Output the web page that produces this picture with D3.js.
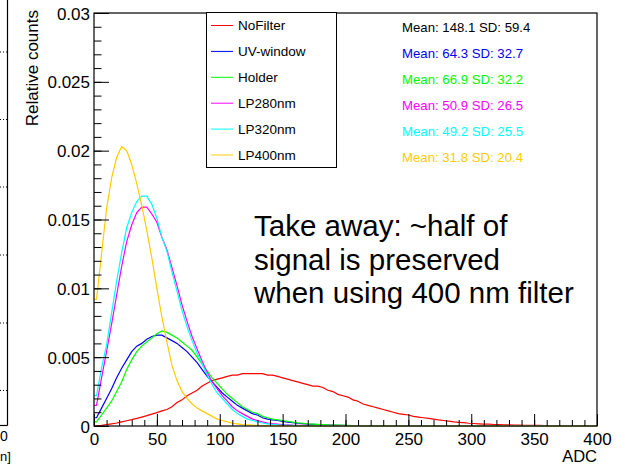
<!DOCTYPE html>
<html><head><meta charset="utf-8">
<script src="https://cdn.jsdelivr.net/npm/d3@7"></script>
<style>
body{margin:0;background:#fff}
svg{display:block}
text{font-family:"Liberation Sans",Arial,Helvetica,sans-serif}
</style>
</head><body>
<script>
// ---------------- data ----------------
const adcMin = 0, adcMax = 400, binWidth = 4;
const xTicks = [0, 50, 100, 150, 200, 250, 300, 350, 400];
const xTickLabels = ["0", "50", "100", "150", "200", "250", "300", "350", "400"];
const yTicks = [0, 0.005, 0.01, 0.015, 0.02, 0.025, 0.03];
const yTickLabels = ["0", "0.005", "0.01", "0.015", "0.02", "0.025", "0.03"];
const seriesNames = ["NoFilter", "UV-window", "Holder", "LP280nm", "LP320nm", "LP400nm"];
const meanLabels = ["Mean: 148.1 SD: 59.4", "Mean: 64.3 SD: 32.7", "Mean: 66.9 SD: 32.2",
                    "Mean: 50.9 SD: 26.5", "Mean: 49.2 SD: 25.5", "Mean: 31.8 SD: 20.4"];
const noteLines = ["Take away: ~half of", "signal is preserved", "when using 400 nm filter"];
const leftPadLabels = ["0", "n]"];

// relative counts per 4-ADC bin (bin i covers [4i, 4i+4))
const noFilter = [
 0.00002,0.00005,0.0001,0.00016,0.00022,0.0003,0.00038,0.00046,0.00055,0.00065,
 0.00075,0.00086,0.00097,0.0011,0.0012,0.0014,0.0017,0.0019,0.0022,0.0024,
 0.0026,0.0029,0.0031,0.0033,0.0034,0.0035,0.0036,0.0037,0.0037,0.0038,
 0.0038,0.0038,0.0038,0.0038,0.0037,0.0037,0.0036,0.0035,0.0034,0.0033,
 0.0032,0.0031,0.0030,0.0029,0.0029,0.0028,0.0026,0.0025,0.0023,0.0022,
 0.0021,0.0019,0.0018,0.0016,0.0015,0.0014,0.0013,0.0012,0.0011,0.0010,
 0.0009,0.00085,0.0008,0.0007,0.00065,0.0006,0.00055,0.0005,0.00044,0.0004,
 0.00035,0.0003,0.00027,0.00024,0.0002,0.00018,0.00016,0.00014,0.00013,0.00011,
 0.0001,0.00009,0.00008,0.00007,0.00006,0.00005,0.00005,0.00004,0.00004,0.00003,
 0.00003,0.00003,0.00002,0.00002,0.00002,0.00002,0.00001,0.00001,0.00001,0.00001];
const uvWindow = [
 0.0006,0.0013,0.0020,0.0027,0.0035,0.0042,0.0048,0.0054,0.0058,0.0060,
 0.0063,0.0065,0.0066,0.0066,0.0064,0.0062,0.0060,0.0057,0.0054,0.0050,
 0.0046,0.0041,0.0036,0.0032,0.0028,0.0024,0.0021,0.0018,0.0015,0.0013,
 0.0011,0.0009,0.0008,0.0006,0.0005,0.00045,0.0004,0.00033,0.00028,0.00024,
 0.0002,0.00017,0.00014,0.00012,0.0001,0.00008,0.00007,0.00006,0.00005,0.00004,
 0.00003,0.00003,0.00002,0.00002,0.00001,0.00001,0,0,0,0,
 0,0,0,0,0,0,0,0,0,0, 0,0,0,0,0,0,0,0,0,0,
 0,0,0,0,0,0,0,0,0,0, 0,0,0,0,0,0,0,0,0,0];
const holder = [
 0.0003,0.0008,0.0013,0.0018,0.0025,0.0032,0.0041,0.0048,0.0054,0.0058,
 0.0061,0.0064,0.0067,0.0069,0.0068,0.0066,0.0064,0.0061,0.0058,0.0055,
 0.0050,0.0045,0.0040,0.0035,0.0031,0.0027,0.0023,0.0020,0.0017,0.0014,
 0.0012,0.0010,0.0009,0.0007,0.0006,0.0005,0.00045,0.0004,0.00033,0.00028,
 0.00023,0.0002,0.00016,0.00014,0.00012,0.0001,0.00008,0.00007,0.00006,0.00005,
 0.00004,0.00003,0.00003,0.00002,0.00002,0.00001,0.00001,0,0,0,
 0,0,0,0,0,0,0,0,0,0, 0,0,0,0,0,0,0,0,0,0,
 0,0,0,0,0,0,0,0,0,0, 0,0,0,0,0,0,0,0,0,0];
const lp280 = [
 0.0015,0.0035,0.0054,0.0074,0.0095,0.0116,0.0134,0.0146,0.0155,0.0159,
 0.0159,0.0154,0.0148,0.0137,0.0128,0.0115,0.0102,0.0088,0.0076,0.0065,
 0.0056,0.0047,0.0039,0.0032,0.0027,0.0022,0.0018,0.0014,0.0011,0.0009,
 0.0007,0.0005,0.0004,0.0003,0.00022,0.00017,0.00013,0.0001,0.00008,0.00006,
 0.00005,0.00004,0.00003,0.00002,0.00002,0.00001,0,0,0,0,
 0,0,0,0,0,0,0,0,0,0, 0,0,0,0,0,0,0,0,0,0,
 0,0,0,0,0,0,0,0,0,0, 0,0,0,0,0,0,0,0,0,0,
 0,0,0,0,0,0,0,0,0,0];
const lp320 = [
 0.0022,0.0042,0.0059,0.0082,0.0105,0.0126,0.0144,0.0155,0.0163,0.0167,
 0.0167,0.0161,0.0151,0.0137,0.0127,0.0112,0.0098,0.0084,0.0072,0.0062,
 0.0053,0.0045,0.0037,0.0030,0.0024,0.0020,0.0016,0.0012,0.0009,0.0007,
 0.0005,0.0004,0.0003,0.00022,0.00016,0.00012,0.00009,0.00007,0.00005,0.00004,
 0.00003,0.00002,0.00002,0.00001,0.00001,0,0,0,0,0,
 0,0,0,0,0,0,0,0,0,0, 0,0,0,0,0,0,0,0,0,0,
 0,0,0,0,0,0,0,0,0,0, 0,0,0,0,0,0,0,0,0,0,
 0,0,0,0,0,0,0,0,0,0];
const lp400 = [
 0.0092,0.0125,0.0158,0.0180,0.0195,0.0203,0.0200,0.0190,0.0176,0.0160,
 0.0142,0.0122,0.0100,0.0079,0.0061,0.0044,0.0033,0.0025,0.0020,0.0016,
 0.0013,0.0011,0.0009,0.0007,0.0005,0.0004,0.0003,0.0002,0.00015,0.0001,
 0.00008,0.00006,0.00004,0.00003,0.00002,0.00002,0.00001,0.00001,0,0,
 0,0,0,0,0,0,0,0,0,0, 0,0,0,0,0,0,0,0,0,0,
 0,0,0,0,0,0,0,0,0,0, 0,0,0,0,0,0,0,0,0,0,
 0,0,0,0,0,0,0,0,0,0, 0,0,0,0,0,0,0,0,0,0];

const seriesValues = [noFilter, uvWindow, holder, lp280, lp320, lp400];

// ---------------- style ----------------
const seriesColors = ["#ff0000", "#0000ff", "#00ff00", "#ff00ff", "#00ffff", "#ffcc00"];
const meanColors = ["#000000", "#0000ff", "#00ff00", "#ff00ff", "#00ffff", "#ffcc00"];
const W = 625, H = 468;
const frame = {left: 94, right: 597, top: 13, bottom: 426};
const font = '"Liberation Sans",Arial,Helvetica,sans-serif';

const svg = d3.select("body").append("svg").attr("width", W).attr("height", H);

const x = d3.scaleLinear().domain([adcMin, adcMax]).range([frame.left, frame.right]);
const y = d3.scaleLinear().domain([0, 0.03]).range([frame.bottom, frame.top]);

// ---- partial neighbouring pad on the far left ----
const left = svg.append("g");
left.append("line").attr("x1", 7.5).attr("x2", 7.5).attr("y1", 0).attr("y2", 425.5)
  .attr("stroke", "#000").attr("stroke-width", 1.2);
left.append("line").attr("x1", 0).attr("x2", 7.5).attr("y1", 425.5).attr("y2", 425.5)
  .attr("stroke", "#000").attr("stroke-width", 1.2);
[52, 119.5, 187, 255, 323, 390.5].forEach(gy => {
  left.append("line").attr("x1", 0).attr("x2", 7).attr("y1", gy).attr("y2", gy)
    .attr("stroke", "#000").attr("stroke-width", 1).attr("stroke-dasharray", "1,2");
});
left.append("text").attr("x", 0).attr("y", 441).attr("font-size", 14).text(leftPadLabels[0]);
left.append("text").attr("x", 0).attr("y", 461).attr("font-size", 13).text(leftPadLabels[1]);

// ---- histograms (outline through bin contents) ----
const edges = d3.range(adcMin, adcMax, binWidth);
const histLine = d3.line()
  .x(d => x(d[0]))
  .y(d => y(d[1]))
  .curve(d3.curveLinear);

const histG = svg.append("g");
seriesValues.forEach((vals, si) => {
  const pts = [[adcMin, vals[0]]];
  vals.forEach((v, i) => pts.push([edges[i] + binWidth / 2, v]));
  pts.push([adcMax, vals[vals.length - 1]]);
  histG.append("path")
    .attr("d", histLine(pts))
    .attr("fill", "none")
    .attr("stroke", seriesColors[si])
    .attr("stroke-width", 1.2)
    .attr("stroke-linejoin", "miter");
});

// ---- axes (ticks inside the frame, like ROOT) ----
const xMinor = d3.range(adcMin, adcMax + 1, 10);
const yMinor = d3.range(0, 0.0305, 0.001);

const gxMinor = svg.append("g").attr("transform", `translate(0,${frame.bottom})`)
  .call(d3.axisBottom(x).tickValues(xMinor).tickSize(-6).tickSizeOuter(0).tickFormat(""));
const gx = svg.append("g").attr("transform", `translate(0,${frame.bottom})`)
  .call(d3.axisBottom(x).tickValues(xTicks).tickSize(-12).tickSizeOuter(0).tickPadding(5)
    .tickFormat((d, i) => xTickLabels[i]));
const gyMinor = svg.append("g").attr("transform", `translate(${frame.left},0)`)
  .call(d3.axisLeft(y).tickValues(yMinor).tickSize(-7.5).tickSizeOuter(0).tickFormat(""));
const gy = svg.append("g").attr("transform", `translate(${frame.left},0)`)
  .call(d3.axisLeft(y).tickValues(yTicks).tickSize(-15).tickSizeOuter(0).tickPadding(4)
    .tickFormat((d, i) => yTickLabels[i]));

[gx, gy, gxMinor, gyMinor].forEach(g => {
  g.selectAll("line").attr("stroke", "#000");
  g.selectAll("path.domain").attr("stroke", "none");
  g.selectAll("text").attr("fill", "#000").attr("font-size", 17).attr("font-family", font);
});
gx.selectAll("text").attr("dy", "0.85em");
gy.selectAll("text").attr("dy", "0.36em");

// frame
svg.append("rect")
  .attr("x", frame.left).attr("y", frame.top)
  .attr("width", frame.right - frame.left).attr("height", frame.bottom - frame.top)
  .attr("fill", "none").attr("stroke", "#000").attr("stroke-width", 1.2);

// axis titles
svg.append("text").attr("x", frame.right).attr("y", 462).attr("text-anchor", "end")
  .attr("font-size", 16.5).text("ADC");
svg.append("text")
  .attr("transform", `translate(38,${frame.top - 3}) rotate(-90)`)
  .attr("text-anchor", "end").attr("font-size", 17).text("Relative counts");

// ---- legend ----
const leg = svg.append("g");
leg.append("rect").attr("x", 206.5).attr("y", 12.5).attr("width", 130).attr("height", 155)
  .attr("fill", "#fff").attr("stroke", "#000").attr("stroke-width", 1);
seriesNames.forEach((name, i) => {
  const cy = 25.5 + i * 25.9;
  leg.append("line").attr("x1", 211).attr("x2", 233).attr("y1", cy).attr("y2", cy)
    .attr("stroke", seriesColors[i]).attr("stroke-width", 1);
  leg.append("text").attr("x", 238).attr("y", cy + 4.8).attr("font-size", 13.5).text(name);
});

// ---- mean / SD texts ----
meanLabels.forEach((t, i) => {
  svg.append("text").attr("x", 402).attr("y", 31.5 + i * 26.1)
    .attr("font-size", 13.2).attr("fill", meanColors[i]).text(t);
});

// ---- take-away note ----
noteLines.forEach((t, i) => {
  svg.append("text").attr("x", 254).attr("y", 236 + i * 33.5)
    .attr("font-size", 29.5).attr("fill", "#000").text(t);
});
</script>
</body></html>
